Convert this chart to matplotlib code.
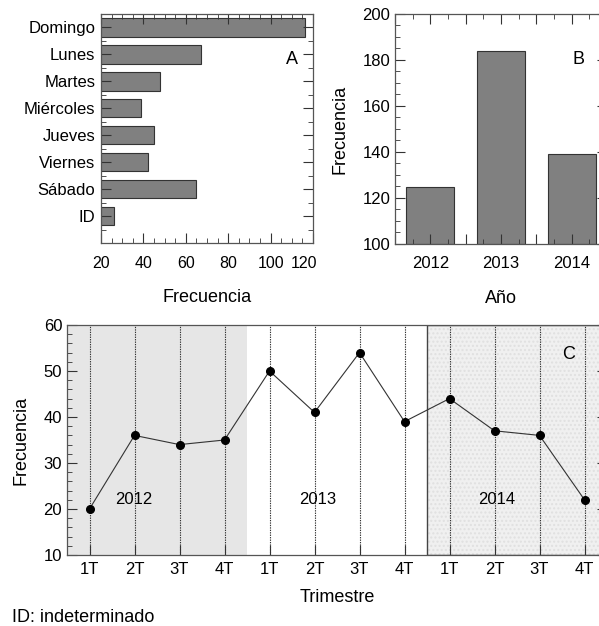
import matplotlib
matplotlib.use("Agg")
import matplotlib.pyplot as plt
import matplotlib.transforms as mtrans
from matplotlib.ticker import MultipleLocator, FixedLocator, FuncFormatter
from matplotlib.patches import Rectangle

plt.rcParams['font.family'] = ['Liberation Sans', 'DejaVu Sans']

# panel A: frecuencia por dia
dias = ['Domingo', 'Lunes', 'Martes', 'Miércoles', 'Jueves', 'Viernes', 'Sábado', 'ID']
frec_dias = [116, 67, 48, 39, 45, 42, 65, 26]

# panel B: frecuencia por año
anios = ['2012', '2013', '2014']
frec_anios = [125, 184, 139]

# panel C: frecuencia por trimestre
trimestres = ['1T', '2T', '3T', '4T'] * 3
frec_trim = [20, 36, 34, 35, 50, 41, 54, 39, 44, 37, 36, 22]

W, H = 599, 626
fig = plt.figure(figsize=(W / 100, H / 100), dpi=100)

FS = 12
FL = 13
GRIS = '#808080'
BORDE = '#333333'


def px(l, b, w, h):
    return [l / W, 1 - (b / H), w / W, h / H]


def style_ticks(ax):
    ax.tick_params(which='both', direction='in', top=True, right=True,
                   labelsize=FS, color='#333333')
    ax.tick_params(which='major', length=7, width=0.8)
    ax.tick_params(which='minor', length=3.5, width=0.6)
    for s in ax.spines.values():
        s.set_linewidth(0.9)
        s.set_color('#555555')


# ---- A ----
axA = fig.add_axes(px(101, 243, 212, 229))
y = list(range(len(dias)))
axA.barh(y, frec_dias, height=0.68, color=GRIS, edgecolor=BORDE, linewidth=0.8)
axA.set_xlim(20, 120)
axA.set_ylim(8.0, -0.5)
axA.set_yticks(y)
axA.set_yticklabels(dias)
axA.yaxis.set_minor_locator(FixedLocator([i + 0.5 for i in range(8)]))
axA.set_xticks([20, 40, 60, 80, 100, 120])
axA.xaxis.set_minor_locator(MultipleLocator(5))
style_ticks(axA)
axA.tick_params(axis='x', pad=9, labelsize=11.5)
axA.tick_params(axis='y', pad=4)
# ultimo rotulo pegado al borde derecho, como en el original
lab120 = axA.get_xticklabels()[-1]
lab120.set_ha('right')
lab120.set_transform(lab120.get_transform() +
                     mtrans.ScaledTranslation(4 / 100, 0, fig.dpi_scale_trans))
axA.set_xlabel('Frecuencia', fontsize=FL, labelpad=13)
axA.text(110, 1.2, 'A', fontsize=FL, ha='center', va='center')

# ---- B ----
axB = fig.add_axes(px(395, 244, 212, 230))
xb = list(range(len(anios)))
axB.bar(xb, [v - 100 for v in frec_anios], bottom=100, width=0.68,
        color=GRIS, edgecolor=BORDE, linewidth=0.8)
axB.set_xlim(-0.5, 2.5)
axB.set_ylim(100, 200)
axB.yaxis.set_major_locator(MultipleLocator(20))
axB.yaxis.set_minor_locator(MultipleLocator(5))
axB.xaxis.set_major_locator(MultipleLocator(0.5))
axB.xaxis.set_minor_locator(MultipleLocator(0.25))
axB.xaxis.set_major_formatter(FuncFormatter(
    lambda v, p: anios[int(round(v))] if abs(v - round(v)) < 1e-6 and 0 <= round(v) < 3 else ''))
style_ticks(axB)
axB.tick_params(axis='x', pad=9)
axB.set_xlabel('Año', fontsize=FL, labelpad=13)
axB.set_ylabel('Frecuencia', fontsize=FL, labelpad=10)
axB.text(2.09, 180, 'B', fontsize=FL, ha='center', va='center')

# ---- C ----
axC = fig.add_axes(px(67, 555, 540, 230))
xc = list(range(len(frec_trim)))
axC.set_xlim(-0.5, 11.5)
axC.set_ylim(10, 60)
axC.add_patch(Rectangle((-0.5, 10), 4, 50, facecolor='#e6e6e6', edgecolor='none', zorder=0))
axC.add_patch(Rectangle((7.5, 10), 4, 50, facecolor='#f0f0f0', edgecolor='#e0e0e0',
                        linewidth=0, hatch='....', zorder=0))
axC.add_patch(Rectangle((7.5, 10), 4, 50, facecolor='none', edgecolor='#444444',
                        linewidth=1.0, zorder=1))
for xi in xc:
    axC.axvline(xi, color='#333333', linestyle=(0, (1.2, 1)), linewidth=0.8, zorder=1)
axC.plot(xc, frec_trim, color='#333333', linewidth=0.8, marker='o',
         markersize=5.5, markerfacecolor='black', markeredgecolor='black', zorder=3)
axC.set_xticks(xc)
axC.set_xticklabels(trimestres)
axC.yaxis.set_major_locator(MultipleLocator(10))
axC.yaxis.set_minor_locator(MultipleLocator(2))
style_ticks(axC)
axC.tick_params(axis='x', which='both', top=False, pad=5)
axC.set_xlabel('Trimestre', fontsize=FL, labelpad=9)
axC.set_ylabel('Frecuencia', fontsize=FL, labelpad=10)
for lbl, xpos in zip(anios, [0.98, 5.08, 9.04]):
    axC.text(xpos, 22, lbl, fontsize=FS, ha='center', va='center')
axC.text(10.64, 53.5, 'C', fontsize=FL, ha='center', va='center')

fig.text(12 / W, 1 - 617 / H, 'ID: indeterminado', fontsize=FL, ha='left', va='center')

fig.savefig('out.png', dpi=100)
